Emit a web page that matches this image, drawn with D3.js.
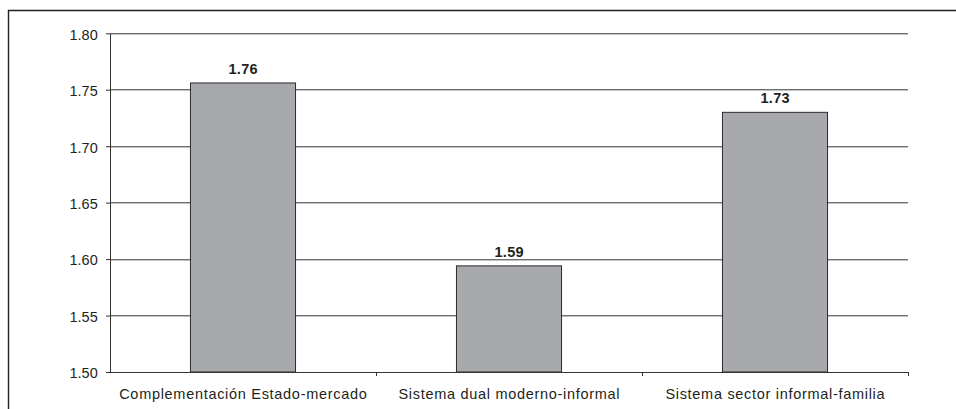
<!DOCTYPE html>
<html>
<head>
<meta charset="utf-8">
<script src="https://cdn.jsdelivr.net/npm/d3@7"></script>
<style>
  html, body { margin: 0; padding: 0; background: #fff; }
  svg { display: block; }
  text { font-family: "Liberation Sans", Arial, Helvetica, sans-serif; fill: #231f20; }
</style>
</head>
<body>
<svg id="chart" width="956" height="409"></svg>
<script>
// Categories and values of the bar chart
const categories = [
  "Complementación Estado-mercado",
  "Sistema dual moderno-informal",
  "Sistema sector informal-familia"
];
const values = [1.756, 1.594, 1.730];
const yTicks = [1.50, 1.55, 1.60, 1.65, 1.70, 1.75, 1.80];

const svg = d3.select("#chart");
const margin = { left: 110, right: 48, top: 33.3, bottom: 37 };
const W = 956, H = 409;
const innerW = W - margin.left - margin.right;
const innerH = H - margin.top - margin.bottom;

// Outer frame (open at right and bottom)
svg.append("path")
  .attr("d", `M8.5,${H} L8.5,10.5 L${W},10.5`)
  .attr("fill", "none")
  .attr("stroke", "#231f20")
  .attr("stroke-width", 1.4);

const g = svg.append("g").attr("transform", `translate(${margin.left},${margin.top})`);

const x = d3.scaleBand().domain(categories).range([0, innerW]).padding(0);
const y = d3.scaleLinear().domain([1.50, 1.80]).range([innerH, 0]);

// Horizontal gridlines
g.append("g")
  .selectAll("line")
  .data(yTicks.filter(d => d > 1.50))
  .join("line")
  .attr("x1", 0).attr("x2", innerW)
  .attr("y1", d => Math.round(y(d)) + 0.5).attr("y2", d => Math.round(y(d)) + 0.5)
  .attr("stroke", "#333")
  .attr("stroke-width", 1);

// Y axis
g.append("g")
  .call(d3.axisLeft(y).tickValues(yTicks).tickFormat(d3.format(".2f")).tickSize(4).tickSizeOuter(0))
  .call(a => a.select(".domain").attr("stroke", "#333"))
  .call(a => a.selectAll(".tick text")
    .attr("x", -12.3)
    .attr("dy", "0.4em")
    .style("font-size", "14.5px")
    .style("font-family", "'Liberation Sans', Arial, sans-serif")
    .attr("fill", "#231f20"))
  .call(a => a.selectAll(".tick line").attr("stroke", "#333"));

// Bars
const barW = x.bandwidth() * 0.395;
g.append("g")
  .selectAll("rect")
  .data(values)
  .join("rect")
  .attr("x", (d, i) => x(categories[i]) + (x.bandwidth() - barW) / 2)
  .attr("y", d => y(d))
  .attr("width", barW)
  .attr("height", d => innerH - y(d))
  .attr("fill", "#a8a9ac")
  .attr("stroke", "#2b2b2b")
  .attr("stroke-width", 1);

// Value labels
g.append("g")
  .selectAll("text")
  .data(values)
  .join("text")
  .attr("x", (d, i) => x(categories[i]) + x.bandwidth() / 2 + 0.2)
  .attr("y", d => y(d) - 9)
  .attr("text-anchor", "middle")
  .style("font-size", "14.5px")
  .style("letter-spacing", "0.3px")
  .style("font-weight", "bold")
  .text(d => d3.format(".2f")(d));

// X axis with boundary ticks between categories
const xAxisG = g.append("g").attr("transform", `translate(0,${innerH})`);
xAxisG.append("line")
  .attr("x1", 0).attr("x2", innerW)
  .attr("y1", 0.5).attr("y2", 0.5)
  .attr("stroke", "#333");
xAxisG.selectAll("line.b")
  .data(categories.slice(1).map(c => x(c)).concat([innerW]))
  .join("line")
  .attr("class", "b")
  .attr("x1", d => d + 0.5).attr("x2", d => d + 0.5)
  .attr("y1", 0).attr("y2", 4)
  .attr("stroke", "#333");
xAxisG.selectAll("text")
  .data(categories)
  .join("text")
  .attr("x", d => x(d) + x.bandwidth() / 2 + 0.35)
  .attr("y", 26.5)
  .attr("text-anchor", "middle")
  .style("font-size", "14.5px")
  .style("letter-spacing", "0.7px")
  .text(d => d);
</script>
</body>
</html>
